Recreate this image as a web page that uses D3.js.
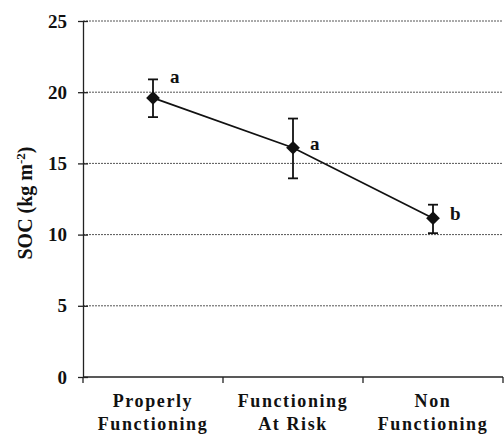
<!DOCTYPE html>
<html>
<head>
<meta charset="utf-8">
<script src="https://cdn.jsdelivr.net/npm/d3@7"></script>
<style>
  body { margin: 0; background: #fff; }
</style>
</head>
<body>
<div id="chart"></div>
<script>
// data
const categories = [["Properly", "Functioning"], ["Functioning", "At Risk"], ["Non", "Functioning"]];
const socMean = [19.6, 16.1, 11.15];
const socUpper = [20.9, 18.15, 12.1];
const socLower = [18.25, 13.95, 10.1];
const letters = ["a", "a", "b"];
const yTicks = [0, 5, 10, 15, 20, 25];

const width = 504, height = 437,
margin = {top: 21, bottom: 60, left: 83, right: 1};
const FONT = "Liberation Serif";

const svg = d3.select("#chart").append("svg")
  .attr("width", width)
  .attr("height", height)
  .attr("font-family", FONT)
  .attr("font-weight", "bold");

const xScale = d3.scaleBand()
  .domain(d3.range(categories.length))
  .range([margin.left, width - margin.right])
  .padding(0);

const yScale = d3.scaleLinear()
  .domain([0, 25])
  .range([height - margin.bottom, margin.top]);

// gridlines
svg.append("g")
  .selectAll("line")
  .data(yTicks.filter(d => d > 0))
  .join("line")
    .attr("x1", margin.left)
    .attr("x2", width - margin.right)
    .attr("y1", d => yScale(d))
    .attr("y2", d => yScale(d))
    .attr("stroke", "#555")
    .attr("stroke-width", 1)
    .attr("stroke-dasharray", "2,1");

// y axis (ticks cross the axis line)
const yAxis = d3.axisLeft(yScale).tickValues(yTicks).tickSizeInner(5).tickSizeOuter(0).tickPadding(11);
const yAxisGroup = svg.append("g")
  .attr("transform", `translate(${margin.left},0)`)
  .call(yAxis)
  .attr("font-family", FONT)
  .attr("font-size", 19);
yAxisGroup.select(".domain").attr("stroke", "#222").attr("stroke-width", 1.3);
yAxisGroup.selectAll(".tick line").attr("x1", 5).attr("stroke", "#222").attr("stroke-width", 1.3);
yAxisGroup.selectAll("text").attr("fill", "#111");

// x axis
const xAxisGroup = svg.append("g")
  .attr("transform", `translate(0,${yScale(0)})`);
xAxisGroup.append("line")
  .attr("x1", margin.left).attr("x2", width - margin.right)
  .attr("stroke", "#222").attr("stroke-width", 1.3);
xAxisGroup.selectAll("line.tick")
  .data(d3.range(categories.length + 1))
  .join("line")
    .attr("class", "tick")
    .attr("x1", d => d < categories.length ? xScale(d) : xScale(d - 1) + xScale.bandwidth())
    .attr("x2", d => d < categories.length ? xScale(d) : xScale(d - 1) + xScale.bandwidth())
    .attr("y1", 0).attr("y2", 6)
    .attr("stroke", "#222").attr("stroke-width", 1.3);

const catLabels = xAxisGroup.selectAll("text.cat")
  .data(categories)
  .join("text")
    .attr("class", "cat")
    .attr("text-anchor", "middle")
    .attr("x", (d, i) => xScale(i) + xScale.bandwidth() / 2)
    .attr("y", 30)
    .attr("fill", "#111")
    .attr("font-size", 18)
    .attr("letter-spacing", 1.6);
catLabels.selectAll("tspan")
  .data(d => d)
  .join("tspan")
    .attr("x", function() { return this.parentNode.getAttribute("x"); })
    .attr("dy", (d, i) => i === 0 ? 0 : 23)
    .text(d => d);

// y axis title
const title = svg.append("text")
  .attr("transform", `translate(32,${yScale(12.5) + 4}) rotate(-90)`)
  .attr("text-anchor", "middle")
  .attr("fill", "#111")
  .attr("font-size", 20);
title.append("tspan").text("SOC (kg m");
title.append("tspan").attr("dy", -7).attr("font-size", 13).text("-2");
title.append("tspan").attr("dy", 7).text(")");

const cx = i => xScale(i) + xScale.bandwidth() / 2;

// line
svg.append("path")
  .datum(socMean)
  .attr("fill", "none")
  .attr("stroke", "#111")
  .attr("stroke-width", 1.7)
  .attr("d", d3.line().x((d, i) => cx(i)).y(d => yScale(d)));

// error bars
const err = svg.append("g").attr("stroke", "#111").attr("stroke-width", 1.8);
err.selectAll("line.v")
  .data(socMean)
  .join("line")
    .attr("class", "v")
    .attr("x1", (d, i) => cx(i)).attr("x2", (d, i) => cx(i))
    .attr("y1", (d, i) => yScale(socUpper[i]))
    .attr("y2", (d, i) => yScale(socLower[i]));
err.selectAll("line.top")
  .data(socUpper)
  .join("line")
    .attr("class", "top")
    .attr("x1", (d, i) => cx(i) - 5).attr("x2", (d, i) => cx(i) + 5)
    .attr("y1", d => yScale(d)).attr("y2", d => yScale(d));
err.selectAll("line.bot")
  .data(socLower)
  .join("line")
    .attr("class", "bot")
    .attr("x1", (d, i) => cx(i) - 5).attr("x2", (d, i) => cx(i) + 5)
    .attr("y1", d => yScale(d)).attr("y2", d => yScale(d));

// diamonds
svg.selectAll("path.pt")
  .data(socMean)
  .join("path")
    .attr("class", "pt")
    .attr("transform", (d, i) => `translate(${cx(i)},${yScale(d)})`)
    .attr("d", d3.symbol().type(d3.symbolDiamond2).size(120))
    .attr("fill", "#111");

// significance letters
svg.selectAll("text.letter")
  .data(letters)
  .join("text")
    .attr("class", "letter")
    .attr("x", (d, i) => cx(i) + 17)
    .attr("y", (d, i) => i === 0 ? yScale(socUpper[i]) + 4 : yScale(socMean[i]) + 2)
    .attr("fill", "#111")
    .attr("font-size", 19)
    .text(d => d);
</script>
</body>
</html>
